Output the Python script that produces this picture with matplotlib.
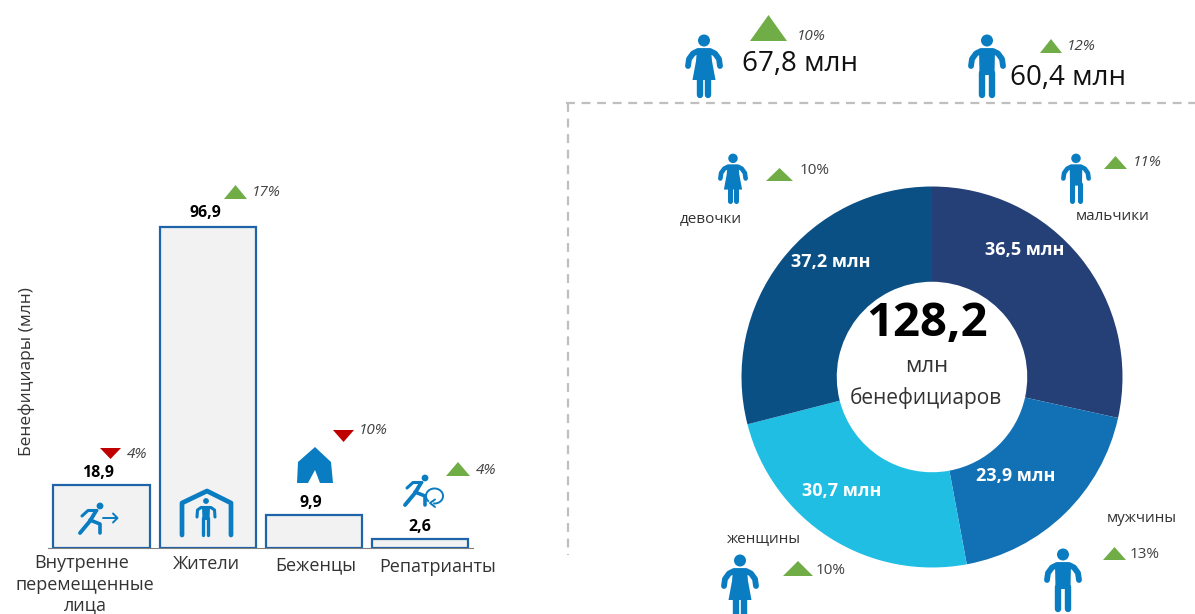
import matplotlib
matplotlib.use("Agg")
import matplotlib.pyplot as plt
from matplotlib.patches import Polygon, Circle, Arc

plt.rcParams['font.family'] = ['Open Sans', 'DejaVu Sans']

# data
bar_categories = ["Внутренне\nперемещенные\nлица", "Жители", "Беженцы", "Репатрианты"]
bar_values = [18.9, 96.9, 9.9, 2.6]
bar_labels = ["18,9", "96,9", "9,9", "2,6"]
bar_changes = ["4%", "17%", "10%", "4%"]
bar_up = [False, True, False, True]
donut_names = ["мальчики", "мужчины", "женщины", "девочки"]
donut_values = [36.5, 23.9, 30.7, 37.2]
donut_labels = ["36,5 млн", "23,9 млн", "30,7 млн", "37,2 млн"]
donut_changes = ["11%", "13%", "10%", "10%"]
total_label = "128,2"
top_labels = ["67,8 млн", "60,4 млн"]
top_changes = ["10%", "12%"]

W, H = 1195, 614
BLUE, GREEN, RED = '#0A7CC1', '#70AD47', '#C00000'
EDGE, TXT = '#1F63A8', '#333333'
fig = plt.figure(figsize=(W / 100, H / 100), dpi=100, facecolor='white')

# bars
ax = fig.add_axes([48 / W, 1 - 548 / H, 425 / W, 448 / H])
ax.set_xlim(-0.503, 3.495)
ax.set_ylim(0, 135.3)
ax.bar(range(4), bar_values, width=0.905, color='#F2F2F2', edgecolor=EDGE, linewidth=1.6)
ax.set_xticks([]); ax.set_yticks([])
for s in ['top', 'left', 'right']:
    ax.spines[s].set_visible(False)
ax.spines['bottom'].set_color('#808080')
ax.spines['bottom'].set_linewidth(0.8)
ax.patch.set_alpha(0)

# donut
R = 190.5
dax = fig.add_axes([(932 - R) / W, 1 - (377 + R) / H, 2 * R / W, 2 * R / H])
dax.pie(donut_values, colors=['#253F77', '#1270B5', '#20BEE3', '#0B5085'], startangle=90,
        counterclock=False, radius=1, wedgeprops=dict(width=0.5, edgecolor='none'))
dax.set_xlim(-1, 1); dax.set_ylim(-1, 1)

# overlay in pixel coordinates
o = fig.add_axes([0, 0, 1, 1], zorder=5)
o.set_xlim(0, W); o.set_ylim(H, 0); o.axis('off'); o.patch.set_alpha(0)


def t(x, y, s, size=13, color=TXT, **kw):
    o.text(x, y, s, fontsize=size, color=color, ha=kw.pop('ha', 'center'), va='center', **kw)


def tri(x0, x1, y0, y1, up=True):
    c = GREEN if up else RED
    pts = [(x0, y1), (x1, y1), ((x0 + x1) / 2, y0)] if up else [(x0, y0), (x1, y0), ((x0 + x1) / 2, y1)]
    o.add_patch(Polygon(pts, closed=True, fc=c, ec='none'))


def ln(xs, ys, lw=3.0, c=BLUE):
    o.plot(xs, ys, color=c, lw=lw, solid_capstyle='round', solid_joinstyle='round')


def person(cx, top, h, female=False):
    k = h / 62.0
    o.add_patch(Circle((cx, top + 5.5 * k), 6 * k, fc=BLUE, ec='none'))
    ln([cx - 16 * k, cx - 15 * k, cx - 11 * k, cx - 6 * k, cx + 6 * k, cx + 11 * k, cx + 15 * k, cx + 16 * k],
       [top + 31 * k, top + 24 * k, top + 18.5 * k, top + 16 * k, top + 16 * k, top + 18.5 * k, top + 24 * k, top + 31 * k],
       lw=4.2 * k)
    if female:
        o.add_patch(Polygon([(cx - 7 * k, top + 15 * k), (cx + 7 * k, top + 15 * k), (cx + 8 * k, top + 26 * k),
                             (cx + 11.5 * k, top + 45 * k), (cx - 11.5 * k, top + 45 * k), (cx - 8 * k, top + 26 * k)],
                            closed=True, fc=BLUE, ec='none'))
        ln([cx - 3.7 * k] * 2, [top + 44 * k, top + 60 * k], lw=4.6 * k)
        ln([cx + 3.7 * k] * 2, [top + 44 * k, top + 60 * k], lw=4.6 * k)
    else:
        o.add_patch(Polygon([(cx - 8 * k, top + 15 * k), (cx + 8 * k, top + 15 * k), (cx + 7.5 * k, top + 40 * k),
                             (cx - 7.5 * k, top + 40 * k)], closed=True, fc=BLUE, ec='none'))
        ln([cx - 5 * k] * 2, [top + 38 * k, top + 60 * k], lw=4.6 * k)
        ln([cx + 5 * k] * 2, [top + 38 * k, top + 60 * k], lw=4.6 * k)


def runner(dx, dy):
    o.add_patch(Circle((100 + dx, 506 + dy), 3.4, fc=BLUE, ec='none'))
    ln([82 + dx, 88 + dx, 97 + dx], [516 + dy, 510.5 + dy, 510.5 + dy], lw=2.2)
    ln([96 + dx, 90 + dx, 80 + dx], [511 + dy, 521 + dy, 533 + dy], lw=2.8)
    ln([90 + dx, 100 + dx, 100 + dx], [520 + dy, 524 + dy, 533 + dy], lw=2.6)


# bar labels
for i, (px, py) in enumerate([(98, 473), (205, 213), (311, 503), (420, 527)]):
    t(px, py, bar_labels[i], size=11.5, color='black', fontweight='bold')
for i, (x0, x1, y0, y1, tx, ty) in enumerate([(100, 121, 448, 459, 137, 454), (224, 247, 185, 199, 266, 193),
                                              (333, 354, 430, 442, 373, 431), (446, 470, 462, 476, 486, 470)]):
    tri(x0, x1, y0, y1, bar_up[i])
    t(tx, ty, bar_changes[i], size=11, style='italic', color='#404040')
idp = bar_categories[0].split("\n")
for s, y, x in zip(idp, [563, 585, 605], [82, 85, 85]):
    t(x, y, s, size=13)
t(207, 564, bar_categories[1], size=13)
t(316, 565, bar_categories[2], size=13)
t(438, 567, bar_categories[3], size=13)
t(27, 372, "Бенефициары (млн)", size=12.5, rotation=90)

# bar icons
runner(0, 0)
ln([103, 117], [518, 518], lw=1.4)
ln([113, 117.5, 113], [513.5, 518, 522.5], lw=1.4)
ln([182, 182, 207, 231, 231], [535, 503, 491, 503, 535], lw=3.4)
o.add_patch(Circle((206, 501), 2.9, fc=BLUE, ec='none'))
ln([197, 197.5, 201, 211, 214.5, 215], [517, 510, 507.5, 507.5, 510, 517], lw=2.2)
o.add_patch(Polygon([(202, 507), (210, 507), (209.5, 520), (202.5, 520)], closed=True, fc=BLUE, ec='none'))
ln([203.5, 203.5], [518, 535], lw=2.4)
ln([208.5, 208.5], [518, 535], lw=2.4)
o.add_patch(Polygon([(315, 447), (298, 462), (297, 483), (308, 483), (315, 470), (320, 483), (333, 483), (331, 462)],
                    closed=True, fc=BLUE, ec='none'))
runner(325, -28)
o.add_patch(Arc((434.5, 496), 17, 15, theta1=-225 + 360 - 360, theta2=100, color=BLUE, lw=1.4))
ln([435, 430, 435], [499.5, 503, 507], lw=1.4)

# dashed frame
o.plot([566, W], [103, 103], color='#BFBFBF', lw=1.6, dashes=(4, 3))
o.plot([568.5, 568.5], [103, 555], color='#BFBFBF', lw=1.6, dashes=(4, 3))

# top block
person(704, 35, 62, True)
person(987, 35, 62, False)
tri(750, 787, 15, 41)
t(811, 37, top_changes[0], size=11, style='italic', color='#404040')
t(800, 64, top_labels[0], size=20, color='#111111')
tri(1040, 1062, 39, 53)
t(1081, 47, top_changes[1], size=11, style='italic', color='#404040')
t(1068, 78, top_labels[1], size=20, color='#111111')

# donut labels
for s, x, y in zip(donut_labels, [1025, 1016, 842, 831], [250, 476, 491, 262]):
    t(x, y, s, size=13, color='white', fontweight='bold')
t(927, 323, total_label, size=34, color='black', fontweight='bold')
t(927, 367, "млн", size=16, color=TXT)
t(926, 398, "бенефициаров", size=15, color=TXT)

# donut groups
person(733, 154, 49, True)
tri(766, 793, 168, 181)
t(815, 171, donut_changes[3], size=11, color='#404040')
t(711, 220, donut_names[3], size=11)
person(1076, 154, 49, False)
tri(1104, 1127, 156, 169)
t(1147, 163, donut_changes[0], size=11, style='italic', color='#404040')
t(1113, 217, donut_names[0], size=11)
person(740, 555, 62, True)
tri(783, 813, 561, 576)
t(831, 570, donut_changes[2], size=11, color='#404040')
t(764, 540, donut_names[2], size=11)
person(1063, 549, 62, False)
tri(1103, 1126, 547, 560)
t(1145, 554, donut_changes[1], size=11, color='#404040')
t(1142, 518, donut_names[1], size=11)

fig.savefig('out.png', dpi=100)
